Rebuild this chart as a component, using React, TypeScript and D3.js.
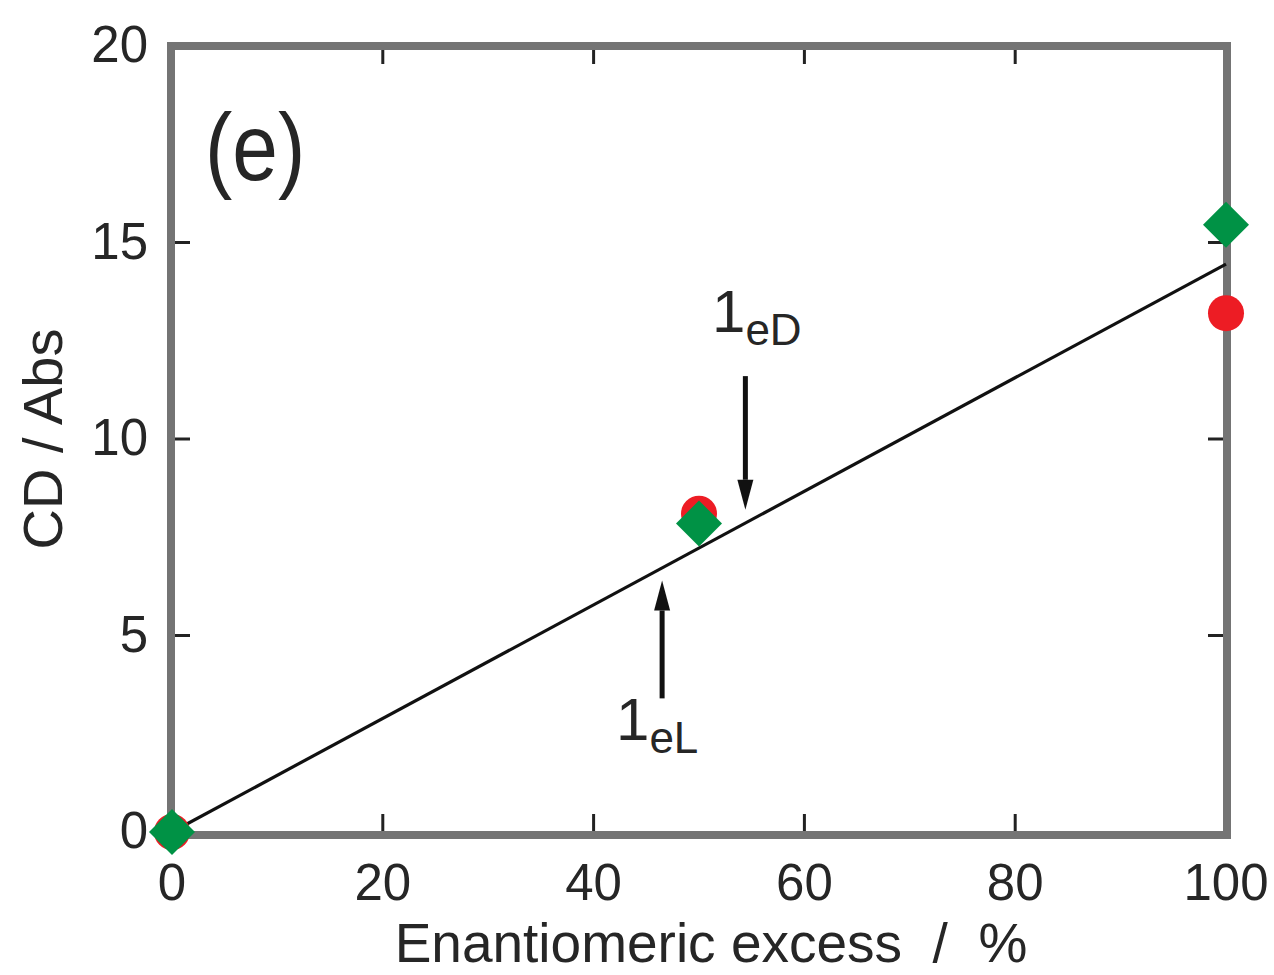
import * as d3 from 'd3';

const eeValues = [0, 50, 100];
const redCD = [0, 8.1, 13.2];
const greenCD = [0, 7.85, 15.45];
const fitLine = [
  { ee: 0, cd: 0 },
  { ee: 100, cd: 14.45 },
];
const xTicks = [0, 20, 40, 60, 80, 100];
const yTicks = [0, 5, 10, 15, 20];
// arrows in data units: ee position, tail y, tip y
const arrowD = { ee: 54.4, from: 11.6, to: 8.2, label: '1', sub: 'eD' };
const arrowL = { ee: 46.5, from: 3.4, to: 6.4, label: '1', sub: 'eL' };

const W = 1274;
const H = 975;
const margin = { left: 172, right: 48, top: 46, bottom: 142 };
const FONT = '"Liberation Sans", Arial, Helvetica, sans-serif';
const TEXT = '#262626';
const FRAME = '#747474';

export default function App() {
  const x = d3.scaleLinear().domain([0, 100]).range([margin.left, W - margin.right]);
  const y = d3.scaleLinear().domain([0, 20]).range([H - margin.bottom - 1, margin.top]);

  const line = d3
    .line<{ ee: number; cd: number }>()
    .x(d => x(d.ee))
    .y(d => y(d.cd));

  const diamond = (cx: number, cy: number, r: number) =>
    `M${cx},${cy - r}L${cx + r},${cy}L${cx},${cy + r}L${cx - r},${cy}Z`;

  const arrow = (a: typeof arrowD) => {
    const ax = x(a.ee);
    const y1 = y(a.from);
    const y2 = y(a.to);
    const dir = y2 > y1 ? 1 : -1;
    const headLen = 30;
    const headW = 8;
    return (
      <g>
        <line x1={ax} y1={y1} x2={ax} y2={y2 - dir * headLen} stroke="#111" strokeWidth={5} />
        <path
          d={`M${ax - headW},${y2 - dir * headLen}L${ax + headW},${y2 - dir * headLen}L${ax},${y2}Z`}
          fill="#111"
        />
      </g>
    );
  };

  const x0 = margin.left;
  const x1 = W - margin.right;
  const y0 = y(0);
  const y1 = y(20);

  return (
    <svg width={W} height={H} style={{ display: 'block', position: 'absolute', left: 0, top: 0 }}>
      <rect width={W} height={H} fill="#fff" />

      {/* ticks on all four sides, pointing in */}
      {xTicks.slice(1, -1).map(t => (
        <g key={'xt' + t}>
          <line x1={x(t)} x2={x(t)} y1={y0} y2={y0 - 18} stroke="#222" strokeWidth={3} />
          <line x1={x(t)} x2={x(t)} y1={y1} y2={y1 + 18} stroke="#222" strokeWidth={3} />
        </g>
      ))}
      {yTicks.slice(1, -1).map(t => (
        <g key={'yt' + t}>
          <line x1={x0} x2={x0 + 18} y1={y(t)} y2={y(t)} stroke="#222" strokeWidth={3} />
          <line x1={x1} x2={x1 - 18} y1={y(t)} y2={y(t)} stroke="#222" strokeWidth={3} />
        </g>
      ))}

      {/* frame */}
      <rect
        x={x0 - 1}
        y={y1}
        width={x1 - x0 + 2}
        height={y0 - y1 + 3}
        fill="none"
        stroke={FRAME}
        strokeWidth={8}
      />

      {/* tick labels */}
      {xTicks.map(t => (
        <text
          key={'xl' + t}
          x={x(t)}
          y={y0 + 68}
          textAnchor="middle"
          fontFamily={FONT}
          fontSize={51}
          fill={TEXT}
        >
          {t}
        </text>
      ))}
      {yTicks.map(t => (
        <text
          key={'yl' + t}
          x={148}
          y={y(t) + 16}
          textAnchor="end"
          fontFamily={FONT}
          fontSize={51}
          fill={TEXT}
        >
          {t}
        </text>
      ))}

      {/* axis titles */}
      <text
        x={(x0 + x1) / 2 + 12}
        y={962}
        textAnchor="middle"
        fontFamily={FONT}
        fontSize={55}
        fill={TEXT}
        style={{ whiteSpace: 'pre' }}
      >
        {'Enantiomeric excess  /  %'}
      </text>
      <text
        transform={`translate(62,${(y0 + y1) / 2}) rotate(-90)`}
        textAnchor="middle"
        fontFamily={FONT}
        fontSize={56}
        fill={TEXT}
      >
        CD / Abs
      </text>

      {/* panel label */}
      <text
        transform="translate(205,180) scale(1,1.15)"
        fontFamily={FONT}
        fontSize={82}
        fill={TEXT}
      >
        (e)
      </text>

      {/* fitted line */}
      <path d={line(fitLine) || ''} fill="none" stroke="#111" strokeWidth={3.2} />

      {/* red circles */}
      {eeValues.map((e, i) => (
        <circle key={'r' + i} cx={x(e)} cy={y(redCD[i])} r={18} fill="#ed1c24" />
      ))}
      {/* green diamonds */}
      {eeValues.map((e, i) => (
        <path key={'g' + i} d={diamond(x(e), y(greenCD[i]), 23)} fill="#009245" />
      ))}

      {/* annotation arrows */}
      {arrow(arrowD)}
      {arrow(arrowL)}

      <text x={712} y={332} fontFamily={FONT} fontSize={60} fill={TEXT}>
        {arrowD.label}
        <tspan fontSize={44} dy={13}>{arrowD.sub}</tspan>
      </text>
      <text x={616} y={740} fontFamily={FONT} fontSize={60} fill={TEXT}>
        {arrowL.label}
        <tspan fontSize={44} dy={13}>{arrowL.sub}</tspan>
      </text>
    </svg>
  );
}
